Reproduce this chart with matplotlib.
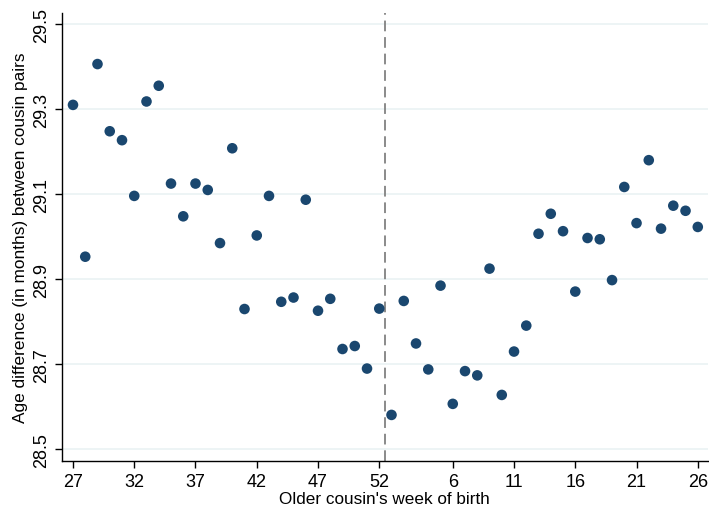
import matplotlib
matplotlib.use("Agg")
import matplotlib.pyplot as plt
import numpy as np

plt.rcParams['font.family'] = ['Liberation Sans', 'DejaVu Sans']

weeks = list(range(27, 53)) + list(range(1, 27))
age_diff = [29.310, 28.953, 29.406, 29.248, 29.227, 29.096, 29.318, 29.355,
            29.125, 29.048, 29.125, 29.110, 28.985, 29.208, 28.830, 29.003,
            29.096, 28.847, 28.857, 29.087, 28.826, 28.854, 28.736, 28.743,
            28.690, 28.831,
            28.581, 28.849, 28.749, 28.688, 28.885, 28.607, 28.684, 28.674,
            28.925, 28.628, 28.730, 28.791, 29.007, 29.054, 29.013, 28.871,
            28.997, 28.994, 28.898, 29.117, 29.032, 29.180, 29.019, 29.073,
            29.061, 29.023]
xtick_labels = ["27", "32", "37", "42", "47", "52", "6", "11", "16", "21", "26"]
ytick_vals = [28.5, 28.7, 28.9, 29.1, 29.3, 29.5]

pos = np.arange(len(weeks))
cutoff = weeks.index(52) + 0.5

fig = plt.figure(figsize=(7.09, 5.10), dpi=100)
ax = fig.add_axes([0.0874, 0.094, 0.9106, 0.8785])

ax.scatter(pos, age_diff, s=58, color='#1a476f', edgecolors='none', zorder=3)
ax.axvline(cutoff, color='#8a8a8a', linestyle=(0, (5.5, 3)), linewidth=1.4, zorder=2)

ax.set_xlim(-0.9, 51.8)
ax.set_ylim(28.4725, 29.526)
ax.set_yticks(ytick_vals)
ax.set_yticklabels([f"{v:.1f}" for v in ytick_vals], rotation=90, va='center')
tick_pos = [weeks.index(int(l)) if int(l) >= 27 else weeks.index(int(l), 26) for l in xtick_labels]
ax.set_xticks(tick_pos)
ax.set_xticklabels(xtick_labels)
ax.tick_params(axis='both', labelsize=13, length=5, width=1, color='black')
ax.grid(axis='y', color='#eaf2f3', linewidth=1.2, zorder=0)
ax.set_axisbelow(True)
for s in ['top', 'right']:
    ax.spines[s].set_visible(False)
for s in ['left', 'bottom']:
    ax.spines[s].set_linewidth(1.0)

ax.set_xlabel("Older cousin's week of birth", fontsize=12.3, labelpad=1)
ax.set_ylabel("Age difference (in months) between cousin pairs", fontsize=12.4, labelpad=4)

fig.savefig("out.png", dpi=100)
